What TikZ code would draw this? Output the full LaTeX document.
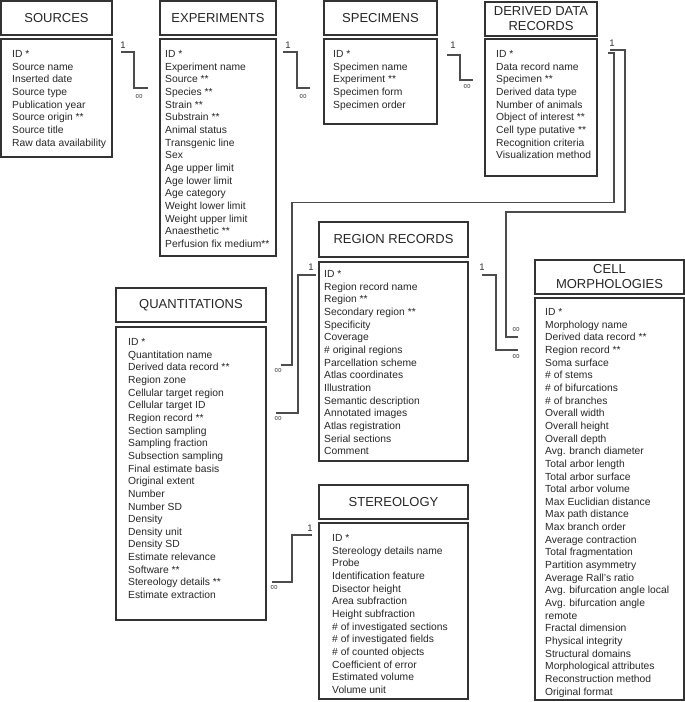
\documentclass[tikz,border=0pt]{standalone}
\usepackage{fontspec}
\setmainfont{Liberation Sans}
\begin{document}
\begin{tikzpicture}[x=1pt,y=-1pt,
  box/.style={draw=black!80, line width=1.3pt, inner sep=0pt},
  hdr/.style={box, font=\fontsize{13}{15}\selectfont, align=center, text=black!85},
  body/.style={inner sep=0pt, anchor=north west, align=left, font=\fontsize{10.3}{12.65}\selectfont, text=black!85},
  link/.style={draw=black!70, line width=1.3pt},
  lab/.style={inner sep=0pt, font=\fontsize{9.5}{10}\selectfont, text=black!80},
  inf/.style={inner sep=0pt, font=\fontsize{10.5}{11}\selectfont, text=black!65}]
\useasboundingbox (0,0) rectangle (685,702);

% ---------- SOURCES
\node[hdr, minimum width=111, minimum height=34] (srcH) at (56.5,18) {SOURCES};
\node[box, minimum width=111, minimum height=118] (srcB) at (56.5,98) {};
\node[body] (srcT) at (12,50.3) {ID *\\Source name\\Inserted date\\Source type\\Publication year\\Source origin **\\Source title\\Raw data availability};

% ---------- EXPERIMENTS
\node[hdr, minimum width=116, minimum height=34] (expH) at (218,18) {EXPERIMENTS};
\node[box, minimum width=116, minimum height=217] (expB) at (218,147.5) {};
\node[body] (expT) at (165,50.3) {ID *\\Experiment name\\Source **\\Species **\\Strain **\\Substrain **\\Animal status\\Transgenic line\\Sex\\Age upper limit\\Age lower limit\\Age category\\Weight lower limit\\Weight upper limit\\Anaesthetic **\\Perfusion fix medium**};

% ---------- SPECIMENS
\node[hdr, minimum width=113, minimum height=34] (speH) at (380.5,18) {SPECIMENS};
\node[box, minimum width=113, minimum height=85] (speB) at (380.5,81.5) {};
\node[body] (speT) at (333,50.3) {ID *\\Specimen name\\Experiment **\\Specimen form\\Specimen order};

% ---------- DERIVED DATA RECORDS
\node[hdr, minimum width=112, minimum height=34] (derH) at (541,19) {DERIVED DATA\\RECORDS};
\node[box, minimum width=112, minimum height=137] (derB) at (541,107.5) {};
\node[body] (derT) at (496,50.3) {ID *\\Data record name\\Specimen **\\Derived data type\\Number of animals\\Object of interest **\\Cell type putative **\\Recognition criteria\\Visualization method};

% ---------- REGION RECORDS
\node[hdr, minimum width=149, minimum height=35] (regH) at (393.5,239.5) {REGION RECORDS};
\node[box, minimum width=149, minimum height=199] (regB) at (393.5,361.5) {};
\node[body] (regT) at (324,270.3) {ID *\\Region record name\\Region **\\Secondary region **\\Specificity\\Coverage\\\# original regions\\Parcellation scheme\\Atlas coordinates\\Illustration\\Semantic description\\Annotated images\\Atlas registration\\Serial sections\\Comment};

% ---------- QUANTITATIONS
\node[hdr, minimum width=150, minimum height=34] (quaH) at (191,305) {QUANTITATIONS};
\node[box, minimum width=150, minimum height=293] (quaB) at (191,473.5) {};
\node[body] (quaT) at (128,338.3) {ID *\\Quantitation name\\Derived data record **\\Region zone\\Cellular target region\\Cellular target ID\\Region record **\\Section sampling\\Sampling fraction\\Subsection sampling\\Final estimate basis\\Original extent\\Number\\Number SD\\Density\\Density unit\\Density SD\\Estimate relevance\\Software **\\Stereology details **\\Estimate extraction};

% ---------- STEREOLOGY
\node[hdr, minimum width=149, minimum height=34] (steH) at (393.5,502) {STEREOLOGY};
\node[box, minimum width=149, minimum height=176] (steB) at (393.5,611) {};
\node[body] (steT) at (332,534.3) {ID *\\Stereology details name\\Probe\\Identification feature\\Disector height\\Area subfraction\\Height subfraction\\\# of investigated sections\\\# of investigated fields\\\# of counted objects\\Coefficient of error\\Estimated volume\\Volume unit};

% ---------- CELL MORPHOLOGIES
\node[hdr, minimum width=149, minimum height=34] (celH) at (609.5,277) {CELL\\MORPHOLOGIES};
\node[box, minimum width=149, minimum height=402] (celB) at (609.5,499) {};
\node[body] (celT) at (545,308.3) {ID *\\Morphology name\\Derived data record **\\Region record **\\Soma surface\\\# of stems\\\# of bifurcations\\\# of branches\\Overall width\\Overall height\\Overall depth\\Avg. branch diameter\\Total arbor length\\Total arbor surface\\Total arbor volume\\Max Euclidian distance\\Max path distance\\Max branch order\\Average contraction\\Total fragmentation\\Partition asymmetry\\Average Rall's ratio\\Avg. bifurcation angle local\\Avg. bifurcation angle\\remote\\Fractal dimension\\Physical integrity\\Structural domains\\Morphological attributes\\Reconstruction method\\Original format};

% ---------- connector end points
\coordinate (a1) at (121,52);  \coordinate (a2) at (148,88);
\coordinate (b1) at (283,52);  \coordinate (b2) at (310,88);
\coordinate (c1) at (447,55);  \coordinate (c2) at (473,80);
\coordinate (d1) at (608,53);  \coordinate (d2) at (281,365);
\coordinate (e1) at (610,50);  \coordinate (e2) at (518,337);
\coordinate (f1) at (482,275); \coordinate (f2) at (518,350);
\coordinate (g1) at (316,275); \coordinate (g2) at (276,413);
\coordinate (h1) at (312,535); \coordinate (h2) at (272,582);

% ---------- connectors
\draw[link] (a1) -- (134,52) -- (134,88) -- (a2);
\draw[link] (b1) -- (297,52) -- (297,88) -- (b2);
\draw[link] (c1) -- (460,55) -- (460,80) -- (c2);
\draw[link] (d1) -- (614,53) -- (614,202.5) -- (292,202.5) -- (292,365) -- (d2);
\draw[link] (e1) -- (625,50) -- (625,212) -- (506,212) -- (506,337) -- (e2);
\draw[link] (f1) -- (496,275) -- (496,350) -- (f2);
\draw[link] (g1) -- (298,275) -- (298,413) -- (g2);
\draw[link] (h1) -- (292,535) -- (292,582) -- (h2);

% ---------- cardinality labels
\node[lab] (l1) at (123,45) {1};   \node[inf] (m1) at (139,97) {∞};
\node[lab] (l2) at (288,45) {1};   \node[inf] (m2) at (303,97) {∞};
\node[lab] (l3) at (453,45) {1};   \node[inf] (m3) at (467,87) {∞};
\node[lab] (l4) at (612,43) {1};   \node[inf] (m4) at (278,371) {∞};
\node[inf] (m5) at (516,330) {∞};
\node[lab] (l6) at (482,267) {1};  \node[inf] (m6) at (516,357) {∞};
\node[lab] (l7) at (311,267) {1};  \node[inf] (m7) at (278,419) {∞};
\node[lab] (l8) at (310,528) {1};  \node[inf] (m8) at (274,588) {∞};
\end{tikzpicture}
\end{document}
